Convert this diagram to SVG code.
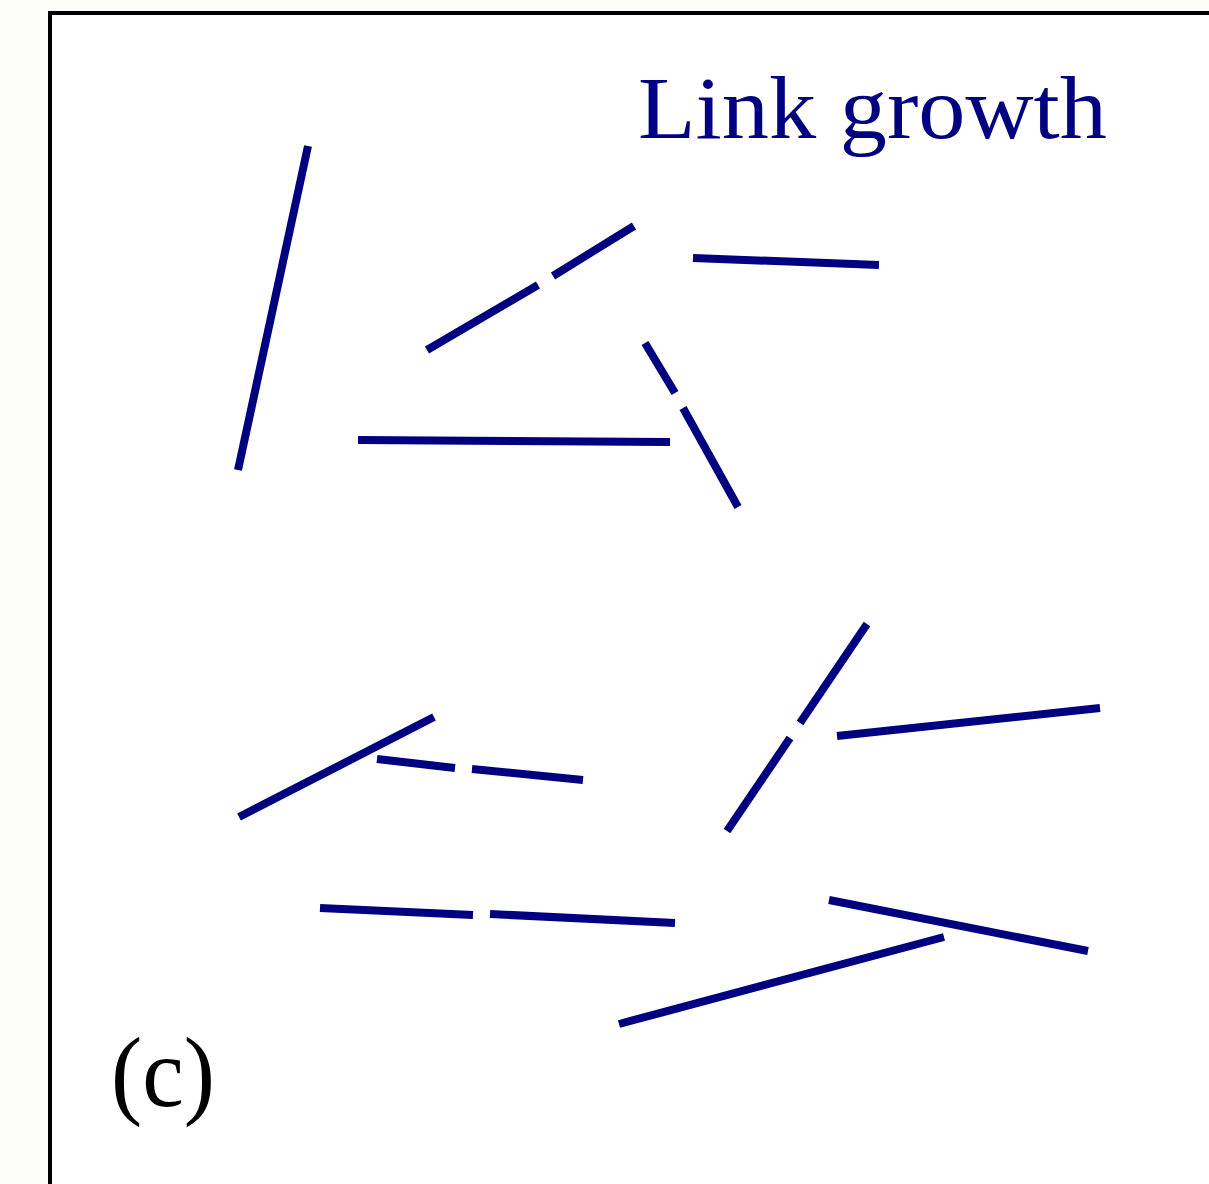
<svg xmlns="http://www.w3.org/2000/svg" width="1209" height="1184" viewBox="0 0 1209 1184">
<style>
.l{stroke:#000080;stroke-width:8;fill:none;stroke-linecap:butt}
.t{font-family:"Liberation Serif","DejaVu Serif",serif}
</style>
<rect x="0" y="0" width="1209" height="1184" fill="#fdfdf8"/>
<rect x="50" y="13" width="1175" height="1190" fill="#ffffff" stroke="#000000" stroke-width="4"/>
<text class="t" x="638" y="138" font-size="89" fill="#000080" textLength="469" lengthAdjust="spacingAndGlyphs">Link growth</text>
<g id="links">
<line class="l" x1="308" y1="146" x2="238" y2="470"/>
<line class="l" x1="427" y1="350" x2="538" y2="285"/>
<line class="l" x1="553" y1="276" x2="634" y2="226"/>
<line class="l" x1="693" y1="258" x2="879" y2="265"/>
<line class="l" x1="645" y1="343" x2="675" y2="393"/>
<line class="l" x1="683" y1="408" x2="738" y2="507"/>
<line class="l" x1="358" y1="440" x2="670" y2="442"/>
<line class="l" x1="239" y1="817" x2="434" y2="717"/>
<line class="l" x1="377" y1="759" x2="455" y2="768"/>
<line class="l" x1="472" y1="769" x2="583" y2="780"/>
<line class="l" x1="867" y1="624" x2="800" y2="723"/>
<line class="l" x1="790" y1="738" x2="727" y2="831"/>
<line class="l" x1="837" y1="736" x2="1100" y2="708"/>
<line class="l" x1="320" y1="908" x2="473" y2="915"/>
<line class="l" x1="490" y1="914" x2="675" y2="923"/>
<line class="l" x1="829" y1="900" x2="1088" y2="951"/>
<line class="l" x1="619" y1="1024" x2="944" y2="937"/>
</g>
<text class="t" x="111" y="1106" font-size="100" fill="#000000" textLength="104" lengthAdjust="spacingAndGlyphs">(c)</text>
</svg>
